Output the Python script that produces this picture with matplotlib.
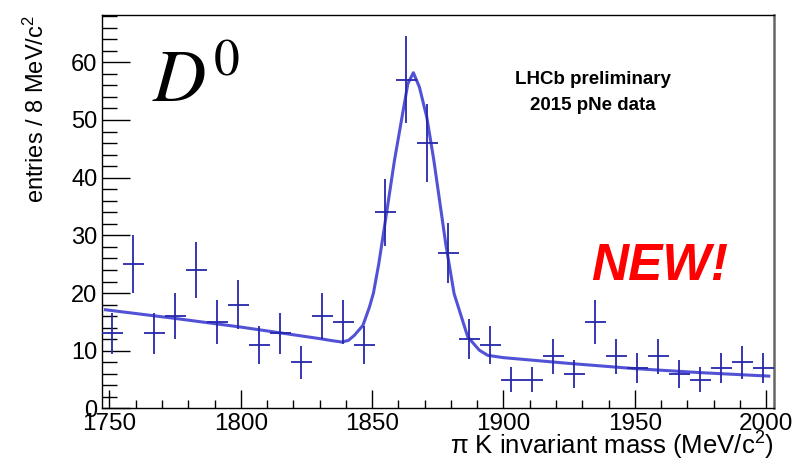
import numpy as np
import matplotlib
matplotlib.use('Agg')
import matplotlib.pyplot as plt
from matplotlib.ticker import MultipleLocator

plt.rcParams['font.family'] = ['Liberation Sans', 'DejaVu Sans']
plt.rcParams['mathtext.fontset'] = 'custom'
plt.rcParams['mathtext.rm'] = 'Liberation Sans'
plt.rcParams['mathtext.it'] = 'Liberation Sans:italic'

# D0 -> pi K candidates, 8 MeV bins
bin_centers = np.arange(1751, 2000, 8)
counts = [13, 25, 13, 16, 24, 15, 18, 11, 13, 8, 16, 15, 11, 34, 57, 46,
          27, 12, 11, 5, 5, 9, 6, 15, 9, 7, 9, 6, 5, 7, 8, 7]
count_err = np.sqrt(counts)  # Poisson errors

# fit curve
fit_x = [1748.5, 1775, 1800, 1815, 1830, 1834, 1838.5, 1841, 1843.3, 1846.5,
         1849, 1850.5, 1852.5, 1854.7, 1858.5, 1863.6, 1865.7, 1868, 1870.8,
         1873.5, 1878, 1881.2, 1886.4, 1890.8, 1894, 1900, 1925, 1950, 1975, 2001]
fit_y = [17.1, 15.6, 14.1, 13.1, 12.1, 11.8, 11.5, 11.8, 12.7, 14.4,
         17.6, 20.0, 25.0, 31.5, 43.0, 56.3, 58.2, 55.7, 50.5,
         43.0, 28.6, 19.9, 12.4, 10.1, 9.2, 8.8, 7.8, 6.9, 6.2, 5.6]

fig = plt.figure(figsize=(8, 4.62), dpi=100)
ax = fig.add_axes([0.127, 0.116, 0.8405, 0.8515])

ax.plot(fit_x, fit_y, color='#5252d6', lw=2.2, zorder=2)
ax.errorbar(bin_centers, counts, xerr=4, yerr=count_err, fmt='none',
            ecolor='#2626aa', elinewidth=1.3, capsize=0, zorder=3)

ax.set_xlim(1747, 2003)
ax.set_ylim(0, 68.2)

ax.xaxis.set_major_locator(MultipleLocator(50))
ax.xaxis.set_minor_locator(MultipleLocator(10))
ax.yaxis.set_major_locator(MultipleLocator(10))
ax.yaxis.set_minor_locator(MultipleLocator(2))

ax.tick_params(axis='x', which='major', direction='in', length=13, width=1,
               labelsize=17.5, pad=3, top=False)
ax.tick_params(axis='x', which='minor', direction='in', length=6, width=1, top=False)
ax.tick_params(axis='y', which='major', direction='in', length=20, width=1,
               labelsize=17, pad=3, right=False)
ax.tick_params(axis='y', which='minor', direction='in', length=11, width=1, right=False)

for s in ['left', 'top', 'bottom']:
    ax.spines[s].set_color('black')
    ax.spines[s].set_linewidth(1.0)
ax.spines['right'].set_color('#666666')
ax.spines['right'].set_linewidth(1.8)

fig.text(36 / 800, 1 - 15 / 462, r'entries / 8 MeV/c$^{2}$', rotation=90,
         ha='center', va='top', fontsize=17)
fig.text(774 / 800, 1 - 455 / 462, r'π K invariant mass (MeV/c$^{2}$)',
         ha='right', va='baseline', fontsize=18.5)

ax.text(152 / 800, 1 - 102 / 462, r'$D^0$', transform=fig.transFigure,
        fontsize=53, math_fontfamily='stix', ha='left', va='baseline')

ax.text(593 / 800, 1 - 80 / 462, 'LHCb preliminary', transform=fig.transFigure,
        fontsize=13.5, fontweight='bold', ha='center', va='center')
ax.text(593 / 800, 1 - 106 / 462, '2015 pNe data', transform=fig.transFigure,
        fontsize=13.5, fontweight='bold', ha='center', va='center')

ax.text(660 / 800, 1 - 266 / 462, 'NEW!', transform=fig.transFigure,
        fontsize=37, fontweight='bold', fontstyle='italic', color='#ff0000',
        ha='center', va='center')

fig.savefig('out.png', dpi=100, facecolor='white')
